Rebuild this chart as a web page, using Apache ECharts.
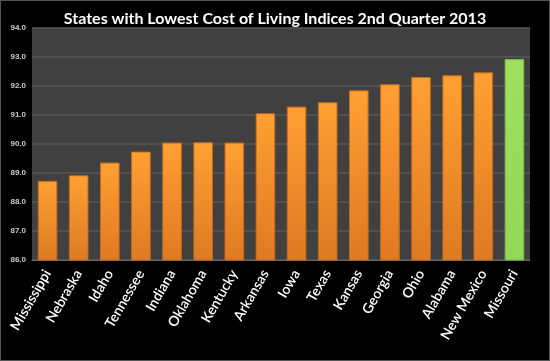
<!DOCTYPE html>
<html><head><meta charset="utf-8">
<script src="https://cdn.jsdelivr.net/npm/echarts@6/dist/echarts.min.js"></script>
<style>html,body{margin:0;padding:0;background:#000;}#c{width:550px;height:361px;box-sizing:border-box;border:1px solid #555;}</style>
</head><body><div id="c"></div>
<script>
const categories = ["Mississippi","Nebraska","Idaho","Tennessee","Indiana","Oklahoma","Kentucky","Arkansas","Iowa","Texas","Kansas","Georgia","Ohio","Alabama","New Mexico","Missouri"];
const values = [88.73, 88.92, 89.36, 89.74, 90.05, 90.06, 90.05, 91.06, 91.29, 91.44, 91.85, 92.06, 92.31, 92.37, 92.47, 92.93];
const highlight = "Missouri";
const yTicks = {min: 86, max: 94, interval: 1};

const orange = new echarts.graphic.LinearGradient(0,0,0,1,[{offset:0,color:'#FFA033'},{offset:1,color:'#DE7A22'}]);
const green = new echarts.graphic.LinearGradient(0,0,0,1,[{offset:0,color:'#9EE05E'},{offset:1,color:'#94D857'}]);
const chart = echarts.init(document.getElementById('c'));
chart.setOption({
  backgroundColor: '#000',
  animation: false,
  title: {text: 'States with Lowest Cost of Living Indices 2nd Quarter 2013', left: 'center', top: 5,
    textStyle: {color: '#fff', fontSize: 16, fontWeight: 'bold', fontFamily: 'Lato'}},
  grid: {left: 31, right: 19, top: 27, bottom: 100, backgroundColor: '#404040', show: true, borderWidth: 0},
  xAxis: {type: 'category', data: categories,
    axisLine: {lineStyle: {color: '#666'}}, axisTick: {show: false},
    axisLabel: {color: '#fff', fontSize: 14, fontWeight: 600, fontFamily: 'Lato', rotate: 60, interval: 0, margin: 11}},
  yAxis: {type: 'value', min: yTicks.min, max: yTicks.max, interval: yTicks.interval,
    axisLine: {show: false}, axisTick: {show: false},
    splitLine: {lineStyle: {color: '#575757', width: 1.5}},
    axisLabel: {color: '#ccc', fontSize: 8, fontWeight: 'bold', fontFamily: 'Liberation Sans', margin: 6,
      formatter: v => v.toFixed(1)}},
  series: [{type: 'bar', barCategoryGap: '37%',
    data: values.map((v, i) => ({value: v, itemStyle: {color: categories[i] === highlight ? green : orange,
      borderColor: categories[i] === highlight ? '#7BB84A' : '#C46A1C', borderWidth: 1}})),
  }]
});
</script></body></html>
